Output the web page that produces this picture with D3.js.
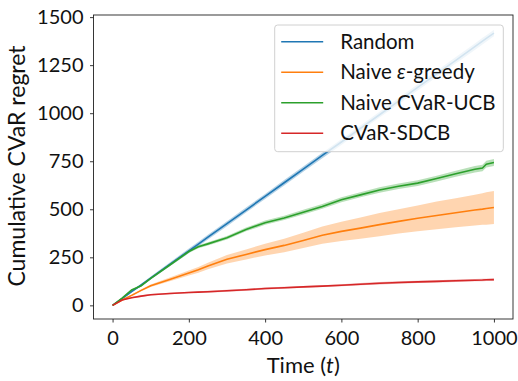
<!DOCTYPE html>
<html>
<head>
<meta charset="utf-8">
<script src="https://cdn.jsdelivr.net/npm/d3@7"></script>
<style>
  body { margin: 0; background: #fff; }
  text { font-family: Lato, "DejaVu Sans", sans-serif; fill: #111; }
</style>
</head>
<body>
<div id="chart"></div>
<script>
// time steps the values were read at
var steps = [0, 25, 50, 75, 100, 150, 200, 225, 250, 300, 350, 400, 450, 500, 550, 600, 650, 700, 750, 800, 850, 900, 950, 970, 980, 1000];

// mean cumulative CVaR regret per method
var randomMean = [0, 35, 71, 106, 142, 213, 284, 319, 355, 425, 496, 567, 638, 709, 780, 850, 921, 992, 1063, 1134, 1205, 1275, 1346, 1375, 1389, 1417];
var greedyMean = [0, 28, 52, 78, 102, 135, 168, 185, 205, 240, 265, 290, 312, 338, 365, 385, 402, 420, 437, 453, 468, 482, 496, 501, 504, 509];
var ucbMean    = [0, 38, 80, 102, 140, 210, 280, 305, 320, 352, 395, 430, 455, 485, 515, 550, 575, 600, 620, 636, 660, 685, 708, 715, 735, 743];
var sdcbMean   = [0, 28, 40, 48, 55, 62, 67, 69, 71, 76, 81, 88, 92, 96, 100, 105, 110, 115, 119, 122, 125, 128, 131, 132, 133, 134];

// half width of the shaded band
var randomBand = [0, 3, 4, 6, 8, 10, 12, 12, 12, 13, 13, 13, 14, 14, 14, 15, 15, 15, 16, 16, 16, 17, 17, 17, 17, 17];
var greedyBand = [0, 2, 4, 5, 7, 10, 13, 15, 17, 22, 26, 30, 35, 40, 45, 50, 55, 60, 63, 67, 72, 76, 80, 82, 84, 86];
var ucbBand    = [0, 3, 4, 5, 6, 7, 8, 8, 9, 9, 10, 11, 11, 12, 12, 13, 13, 14, 14, 15, 15, 16, 17, 17, 18, 18];
var sdcbBand   = [0, 3, 3, 4, 4, 4, 4, 4, 5, 5, 5, 5, 5, 5, 5, 5, 6, 6, 6, 6, 6, 6, 6, 6, 6, 6];

var xTicks = [0, 200, 400, 600, 800, 1000];
var yTicks = [0, 250, 500, 750, 1000, 1250, 1500];

var series = [
    {name: "Random", mean: randomMean, band: randomBand, color: "#1f77b4"},
    {name: "Naive ε-greedy", mean: greedyMean, band: greedyBand, color: "#ff7f0e"},
    {name: "Naive CVaR-UCB", mean: ucbMean, band: ucbBand, color: "#2ca02c"},
    {name: "CVaR-SDCB", mean: sdcbMean, band: sdcbBand, color: "#d62728"}
];

var W = 518, H = 381;
var margin = {top: 15, right: 5, bottom: 62, left: 93.5},
    width = W - margin.left - margin.right,
    height = H - margin.top - margin.bottom;

var svg = d3.select("#chart")
    .append("svg")
        .attr("width", W)
        .attr("height", H)
    .append("g")
        .attr("transform", "translate(" + margin.left + "," + margin.top + ")");

var x = d3.scaleLinear().domain([-50, 1050]).range([0, width]);
var y = d3.scaleLinear().domain([-71, 1511]).range([height, 0]);

// bands then lines
series.forEach(function(s) {
    var pts = steps.map(function(t, i) { return {t: t, m: s.mean[i], b: s.band[i]}; });
    svg.append("path")
        .datum(pts)
        .attr("fill", s.color)
        .attr("fill-opacity", 0.33)
        .attr("d", d3.area()
            .x(function(d) { return x(d.t); })
            .y0(function(d) { return y(d.m - d.b); })
            .y1(function(d) { return y(d.m + d.b); }));
});
series.forEach(function(s) {
    var pts = steps.map(function(t, i) { return {t: t, m: s.mean[i]}; });
    svg.append("path")
        .datum(pts)
        .attr("fill", "none")
        .attr("stroke", s.color)
        .attr("stroke-width", 1.6)
        .attr("d", d3.line()
            .x(function(d) { return x(d.t); })
            .y(function(d) { return y(d.m); }));
});

// axes
var xAxis = svg.append("g")
    .attr("transform", "translate(0," + height + ")")
    .call(d3.axisBottom(x).tickValues(xTicks).tickFormat(d3.format("d")).tickSize(3.5).tickPadding(8));
var yAxis = svg.append("g")
    .call(d3.axisLeft(y).tickValues(yTicks).tickFormat(d3.format("d")).tickSize(3.5).tickPadding(6.5));
[xAxis, yAxis].forEach(function(a) {
    a.select(".domain").remove();
    a.selectAll("line").attr("stroke", "#222").attr("stroke-width", 0.9);
    a.selectAll("text")
        .style("font-family", "Lato, sans-serif")
        .style("font-size", "20px")
        .attr("fill", "#111");
});

// frame
svg.append("rect")
    .attr("width", width)
    .attr("height", height)
    .attr("fill", "none")
    .attr("stroke", "#222")
    .attr("stroke-width", 0.9);

// axis labels
var xl = svg.append("text")
    .attr("x", width / 2)
    .attr("y", height + 54)
    .attr("text-anchor", "middle")
    .style("font-size", "22px");
xl.append("tspan").text("Time (");
xl.append("tspan").style("font-style", "italic").text("t");
xl.append("tspan").text(")");

svg.append("text")
    .attr("transform", "rotate(-90)")
    .attr("x", -height / 2 + 1)
    .attr("y", -68.5)
    .attr("text-anchor", "middle")
    .style("font-size", "23px")
    .text("Cumulative CVaR regret");

// legend
var lg = svg.append("g")
    .attr("transform", "translate(" + (274.7 - margin.left) + "," + (25 - margin.top) + ")");
lg.append("rect")
    .attr("width", 228.6)
    .attr("height", 126.7)
    .attr("rx", 3)
    .attr("fill", "#fff")
    .attr("fill-opacity", 0.8)
    .attr("stroke", "#d0d0d0")
    .attr("stroke-width", 1);
series.forEach(function(s, i) {
    var row = lg.append("g").attr("transform", "translate(0," + (16.7 + i * 30.5) + ")");
    row.append("line")
        .attr("x1", 6.5).attr("x2", 48.5)
        .attr("stroke", s.color)
        .attr("stroke-width", 1.6);
    var t = row.append("text")
        .attr("x", 65.5)
        .attr("y", 7)
        .style("font-size", "20.5px");
    if (s.name.indexOf("ε") >= 0) {
        t.append("tspan").text("Naive ");
        t.append("tspan").style("font-style", "italic").text("ε");
        t.append("tspan").text("-greedy");
    } else {
        t.text(s.name);
    }
});
</script>
</body>
</html>
